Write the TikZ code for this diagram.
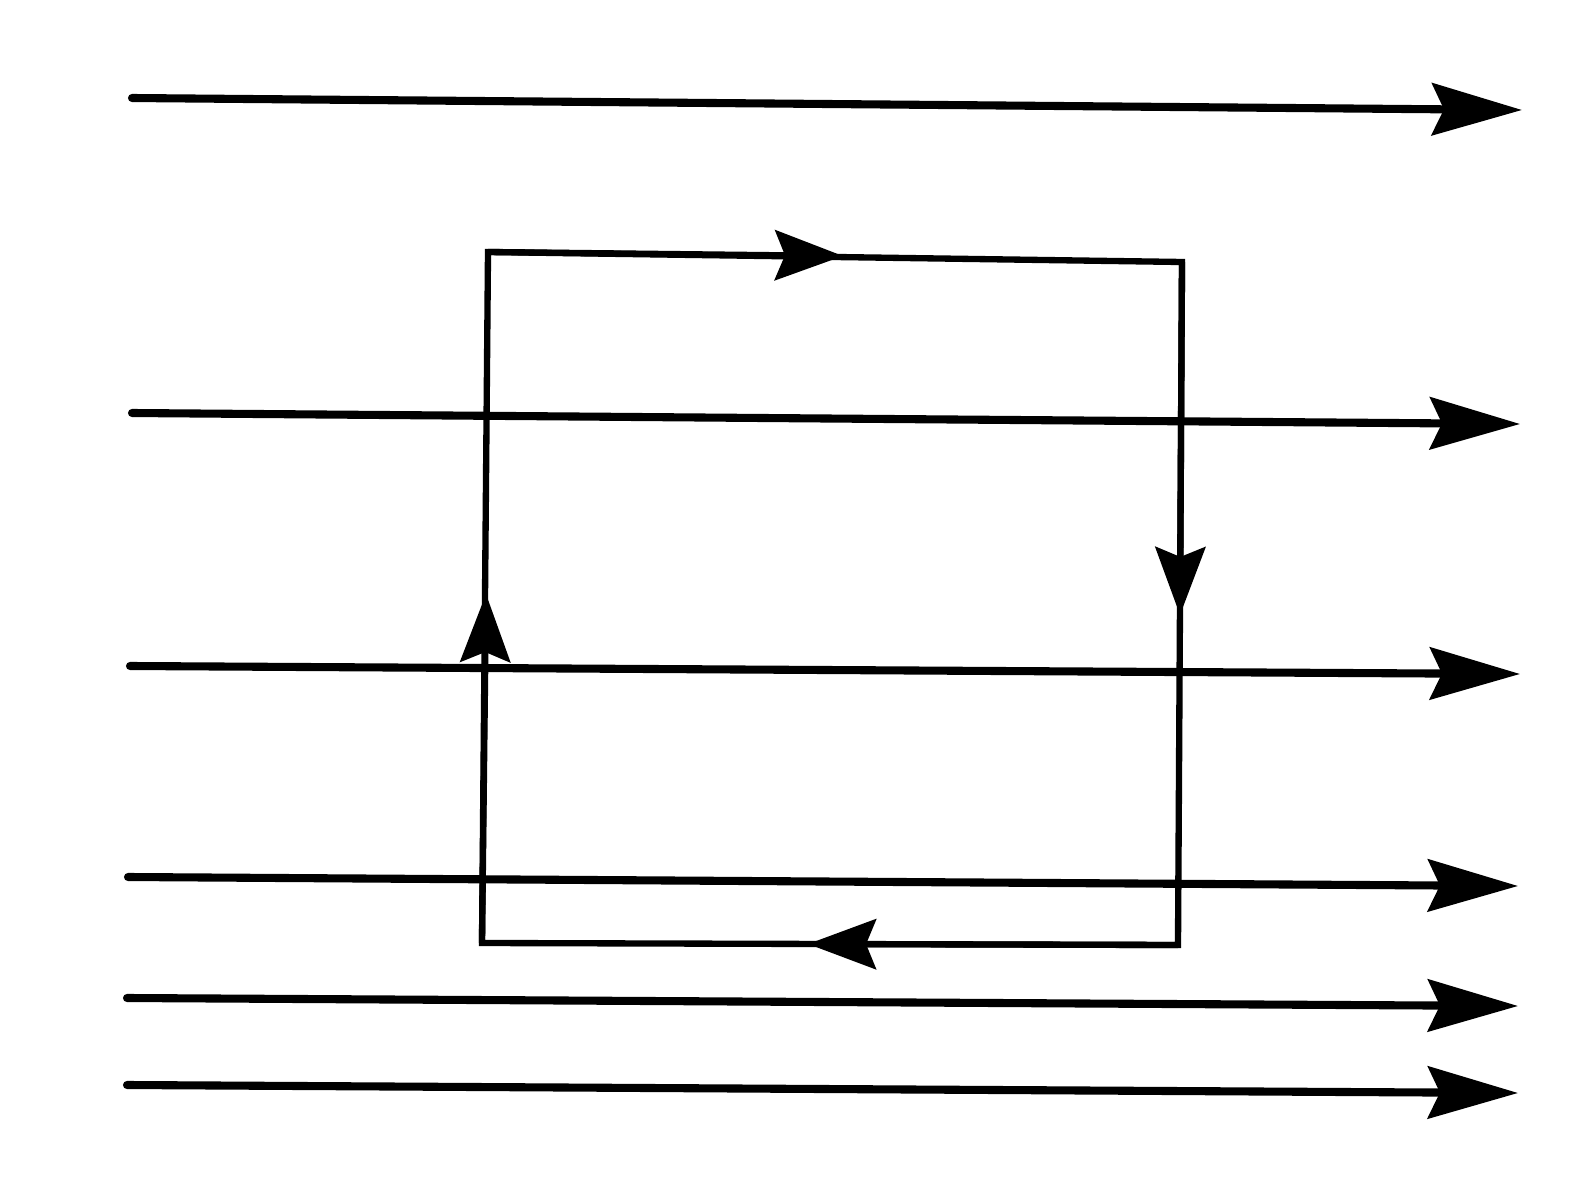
\documentclass[tikz,border=0pt]{standalone}
\usetikzlibrary{arrows.meta}
\tikzset{
  field/.style={
    line width=2.3pt,
    line cap=round,
    -{Stealth[length=0.9cm,width=0.52cm,inset=0.12cm]}
  },
  wire/.style={
    line width=1.8pt,
    line join=miter
  },
  wire-arrow/.style={
    wire,
    -{Stealth[length=0.68cm,width=0.5cm,inset=0.1cm]}
  }
}

\begin{document}
\begin{tikzpicture}[x=0.01cm,y=-0.01cm]
  \useasboundingbox (0,0) rectangle (1593,1179);

  % field lines
  \foreach \i/\ya/\yb/\xa/\xb in {1/98/110/132/1522, 2/413/424/132/1520, 3/666/674/130/1520,
                                  4/877/886/128/1518, 5/998/1006/127/1518, 6/1085/1093/127/1518} {
    \coordinate (l\i) at (\xa,\ya);
    \coordinate (r\i) at (\xb,\yb);
    \draw[field] (l\i) -- (r\i);
  }

  % loop corners
  \coordinate (tl) at (488,252);
  \coordinate (tr) at (1182,262);
  \coordinate (br) at (1178,945);
  \coordinate (bl) at (482,943);

  % arrow positions on the loop
  \coordinate (top-mid) at (843,256);
  \coordinate (right-mid) at (1180,615);
  \coordinate (bottom-mid) at (808,944);
  \coordinate (left-mid) at (486,594);

  \draw[wire] (tl) -- (tr) -- (br) -- (bl) -- cycle;
  \draw[wire-arrow] (tl) -- (top-mid);
  \draw[wire-arrow] (tr) -- (right-mid);
  \draw[wire-arrow] (br) -- (bottom-mid);
  \draw[wire-arrow] (bl) -- (left-mid);
\end{tikzpicture}
\end{document}
